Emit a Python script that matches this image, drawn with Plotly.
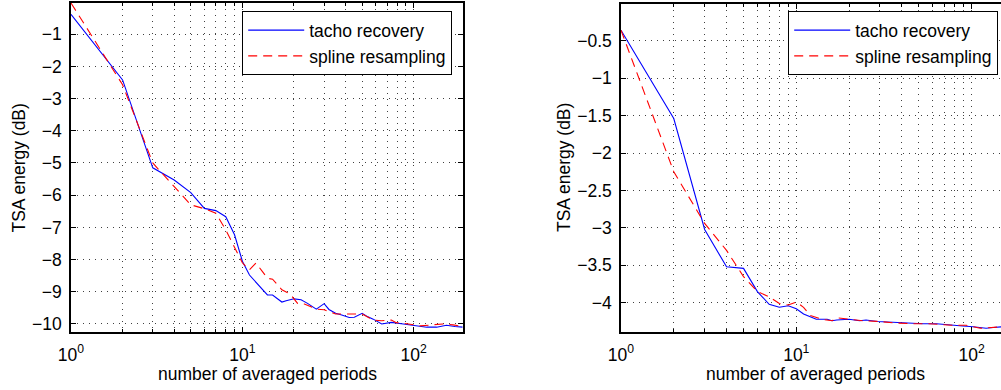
import numpy as np
import plotly.graph_objects as go

# ---------------- data ----------------
n_left_tacho = [1, 2, 3, 4, 5, 6, 7, 8, 9, 10, 11, 12, 13, 14, 15, 16, 17, 18, 20, 22, 24, 27, 30, 32,
                35, 38, 42, 45, 50, 54, 58, 65, 74, 87, 99, 119, 136, 155, 174, 193]
tacho_left = [-0.38, -2.42, -5.15, -5.53, -5.92, -6.41, -6.48, -6.67, -7.23, -8.05, -8.48, -8.70, -8.92,
              -9.10, -9.10, -9.20, -9.32, -9.28, -9.22, -9.25, -9.36, -9.54, -9.37, -9.55, -9.67, -9.72,
              -9.80, -9.79, -9.67, -9.78, -9.85, -10.00, -9.95, -10.00, -10.05, -10.10, -10.10, -10.04,
              -10.08, -10.10]

n_left_spline = [1, 2, 3, 4, 5, 6, 7, 8, 9, 10, 11, 12, 13, 14, 15, 17, 19, 21, 23, 27, 30, 35, 39, 45,
                 50, 58, 65, 74, 79, 93, 109, 127, 148, 170, 193]
spline_left = [-0.03, -2.57, -5.00, -5.75, -6.30, -6.42, -6.56, -7.08, -7.60, -8.10, -8.32, -8.11, -8.35,
               -8.58, -8.61, -8.94, -9.07, -9.36, -9.38, -9.54, -9.56, -9.69, -9.69, -9.70, -9.69, -9.88,
               -9.90, -9.88, -9.96, -10.00, -10.06, -10.03, -10.00, -10.03, -10.08]

n_right_tacho = [1, 2, 3, 4, 5, 6, 7, 8, 9, 10, 11, 13, 15, 16, 17, 20, 23, 25, 29, 34, 41, 46, 53, 63,
                 75, 89, 102, 109, 121, 133, 150]
tacho_right = [-0.36, -1.54, -3.02, -3.52, -3.54, -3.85, -4.02, -4.06, -4.04, -4.08, -4.15, -4.22, -4.22,
               -4.24, -4.23, -4.22, -4.24, -4.23, -4.25, -4.26, -4.27, -4.28, -4.28, -4.28, -4.30, -4.31,
               -4.32, -4.33, -4.34, -4.33, -4.32]

n_right_spline = [1, 2, 3, 4, 5, 6, 7, 8, 9, 10, 11, 12, 14, 16, 17, 20, 24, 30, 37, 46, 57, 78, 93, 112,
                  133, 150]
spline_right = [-0.36, -2.25, -2.94, -3.30, -3.65, -3.85, -3.92, -4.01, -4.03, -3.99, -4.06, -4.17, -4.22,
                -4.24, -4.20, -4.22, -4.24, -4.25, -4.27, -4.28, -4.28, -4.30, -4.30, -4.34, -4.33, -4.32]

series_names = ["tacho recovery", "spline resampling"]
x_tickvals = [1, 10, 100]
x_ticktext = ["10<sup>0</sup>", "10<sup>1</sup>", "10<sup>2</sup>"]
x_minor = [2, 3, 4, 5, 6, 7, 8, 9, 20, 30, 40, 50, 60, 70, 80, 90, 200]
y_left_ticks = [-10, -9, -8, -7, -6, -5, -4, -3, -2, -1]
y_right_ticks = [-4, -3.5, -3, -2.5, -2, -1.5, -1, -0.5]
x_title = "number of averaged periods"
y_title = "TSA energy (dB)"

# ---------------- figure ----------------
W, H = 1001, 390
FONT = "Liberation Sans, Arial, Helvetica, sans-serif"
FS = 17.5
BLUE = "#0000ff"
RED = "#ff0000"
DASH = "9px,6px"

fig = go.Figure()
fig.add_trace(go.Scatter(x=n_left_tacho, y=tacho_left, mode="lines", name=series_names[0],
                         line=dict(color=BLUE, width=1.1), xaxis="x", yaxis="y", legend="legend"))
fig.add_trace(go.Scatter(x=n_left_spline, y=spline_left, mode="lines", name=series_names[1],
                         line=dict(color=RED, width=1.1, dash=DASH), xaxis="x", yaxis="y", legend="legend"))
fig.add_trace(go.Scatter(x=n_right_tacho, y=tacho_right, mode="lines", name=series_names[0],
                         line=dict(color=BLUE, width=1.1), xaxis="x2", yaxis="y2", legend="legend2"))
fig.add_trace(go.Scatter(x=n_right_spline, y=spline_right, mode="lines", name=series_names[1],
                         line=dict(color=RED, width=1.1, dash=DASH), xaxis="x2", yaxis="y2", legend="legend2"))

grid_common = dict(showgrid=True, gridcolor="#404040", gridwidth=1, griddash="1px,5px")


def xaxis_cfg(domain, rng, anchor):
    return dict(
        type="log", domain=domain, range=rng, anchor=anchor,
        tickmode="array", tickvals=x_tickvals, ticktext=x_ticktext,
        ticks="inside", ticklen=5, tickwidth=1, tickcolor="black",
        showline=True, linecolor="black", linewidth=1.5, mirror="ticks",
        zeroline=False, ticklabelstandoff=6,
        tickfont=dict(family=FONT, size=FS, color="black"),
        minor=dict(tickmode="array", tickvals=x_minor, ticks="inside", ticklen=3,
                   tickcolor="black", **grid_common),
        automargin=False,
        **grid_common,
    )


def yaxis_cfg(domain, rng, anchor, ticks, mirror):
    return dict(
        domain=domain, range=rng, anchor=anchor,
        tickmode="array", tickvals=ticks,
        ticks="inside", ticklen=5, tickwidth=1, tickcolor="black",
        showline=True, linecolor="black", linewidth=1.5, mirror=mirror,
        zeroline=False, ticklabelstandoff=4,
        tickfont=dict(family=FONT, size=FS, color="black"),
        automargin=False,
        **grid_common,
    )


x1_dom = [71 / W, 462.7 / W]
x2_dom = [621 / W, 1.0]
y1_dom = [(H - 332) / H, (H - 3) / H]
y2_dom = [(H - 332) / H, (H - 4) / H]

x1_rng = [0, np.log10(193)]
x2_rng = [0, (W - 621) / 175.3]

legend_common = dict(yanchor="top", xanchor="left", bgcolor="white", bordercolor="black",
                     borderwidth=1.2, font=dict(family=FONT, size=FS, color="black"),
                     tracegroupgap=0, itemwidth=56)

fig.update_layout(
    width=W, height=H,
    margin=dict(l=0, r=0, t=0, b=0),
    paper_bgcolor="white", plot_bgcolor="white",
    font=dict(family=FONT, size=FS, color="black"),
    showlegend=True,
    xaxis=xaxis_cfg(x1_dom, x1_rng, "y"),
    yaxis=yaxis_cfg(y1_dom, [-10.25, -0.03], "x", y_left_ticks, "ticks"),
    xaxis2=xaxis_cfg(x2_dom, x2_rng, "y2"),
    yaxis2=yaxis_cfg(y2_dom, [-4.39, -0.01], "x2", y_right_ticks, False),
    legend=dict(x=242 / W, y=1 - 11 / H, **legend_common),
    legend2=dict(x=788 / W, y=1 - 11 / H, **legend_common),
)

ann_font = dict(family=FONT, size=FS, color="black")
fig.add_annotation(text=x_title, x=267 / W, y=(H - 374) / H, xref="paper", yref="paper",
                   showarrow=False, font=ann_font, xanchor="center", yanchor="middle")
fig.add_annotation(text=x_title, x=815 / W, y=(H - 374) / H, xref="paper", yref="paper",
                   showarrow=False, font=ann_font, xanchor="center", yanchor="middle")
fig.add_annotation(text=y_title, x=18.5 / W, y=(H - 168) / H, xref="paper", yref="paper",
                   showarrow=False, font=ann_font, textangle=-90, xanchor="center", yanchor="middle")
fig.add_annotation(text=y_title, x=564 / W, y=(H - 168) / H, xref="paper", yref="paper",
                   showarrow=False, font=ann_font, textangle=-90, xanchor="center", yanchor="middle")

fig.write_html("out.html",
               config={"displayModeBar": False},
               post_script="document.body.style.margin='0';document.body.style.padding='0';"
                           "document.body.style.overflow='hidden';")
